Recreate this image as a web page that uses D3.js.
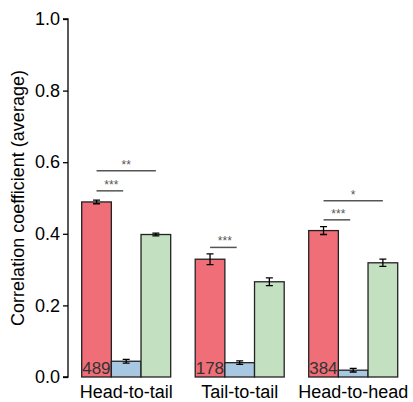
<!DOCTYPE html>
<html lang="en">
<head>
<meta charset="UTF-8">
<title>Correlation coefficient</title>
<style>
  body { margin: 0; background: #fff; }
  svg text { font-family: "Liberation Sans", Arial, sans-serif; }
</style>
</head>
<body>
<script src="https://cdn.jsdelivr.net/npm/d3@7"></script>
<script>
var groups = ['Head-to-tail', 'Tail-to-tail', 'Head-to-head'];
var series = ['red', 'blue', 'green'];
var counts = [489, 178, 384];
var means = [
  [0.489, 0.044, 0.398],
  [0.329, 0.040, 0.266],
  [0.409, 0.019, 0.319]
];
var errs = [
  [0.005, 0.005, 0.004],
  [0.015, 0.005, 0.011],
  [0.011, 0.005, 0.010]
];
var yTicks = [0, 0.2, 0.4, 0.6, 0.8, 1.0];
// significance brackets: group, from series, to series, level, stars
var sig = [
  [0, 0, 1, 0.52, '***'],
  [0, 0, 2, 0.576, '**'],
  [1, 0, 1, 0.362, '***'],
  [2, 0, 1, 0.439, '***'],
  [2, 0, 2, 0.492, '*']
];
var colors = { red: '#f06e77', blue: '#a8c7e0', green: '#c3e1c1' };

var W = 413, H = 402;
var svg = d3.select('body').append('svg')
    .attr('width', W)
    .attr('height', H);

var y = d3.scaleLinear().domain([0, 1]).range([377, 19]);
var x0 = d3.scaleBand().domain(groups).range([81.7, 397.7]).paddingInner(0.216).paddingOuter(0);
var x1 = d3.scaleBand().domain(series).range([0, x0.bandwidth()]);

// axis
var yAxis = d3.axisLeft(y).tickValues(yTicks).tickFormat(d3.format('.1f')).tickSize(5).tickPadding(3);
var ag = svg.append('g').attr('transform', 'translate(68,0)').call(yAxis);
ag.select('.domain').attr('d', 'M-5,' + y(1) + 'H0V' + y(0) + 'H-5').attr('stroke', '#000').attr('stroke-width', 1.3);
ag.selectAll('.tick line').attr('stroke', '#000').attr('stroke-width', 1.3);
ag.selectAll('.tick text').attr('font-size', 18).attr('fill', '#000')
  .style('font-family', '"Liberation Sans", Arial, sans-serif');

svg.append('text')
  .attr('transform', 'translate(24,' + y(0.5) + ') rotate(-90)')
  .attr('text-anchor', 'middle')
  .attr('font-size', 18)
  .text('Correlation coefficient (average)');

var gg = svg.selectAll('g.grp')
  .data(groups)
  .enter().append('g')
    .attr('class', 'grp')
    .attr('transform', function(d) { return 'translate(' + x0(d) + ',0)'; });

gg.selectAll('rect')
  .data(function(d, i) { return series.map(function(s, j) { return { s: s, v: means[i][j], e: errs[i][j] }; }); })
  .enter().append('rect')
    .attr('x', function(d) { return x1(d.s); })
    .attr('y', function(d) { return y(d.v); })
    .attr('width', x1.bandwidth())
    .attr('height', function(d) { return y(0) - y(d.v); })
    .attr('fill', function(d) { return colors[d.s]; })
    .attr('stroke', '#222')
    .attr('stroke-width', 1.3);

// error bars
gg.selectAll('path.err')
  .data(function(d, i) { return series.map(function(s, j) { return { s: s, v: means[i][j], e: errs[i][j] }; }); })
  .enter().append('path')
    .attr('class', 'err')
    .attr('fill', 'none')
    .attr('stroke', '#000')
    .attr('stroke-width', 1.3)
    .attr('d', function(d) {
      var cx = x1(d.s) + x1.bandwidth() / 2, t = y(d.v + d.e), b = y(d.v - d.e);
      return 'M' + (cx - 3.5) + ',' + t + 'H' + (cx + 3.5) + 'M' + cx + ',' + t + 'V' + b +
             'M' + (cx - 3.5) + ',' + b + 'H' + (cx + 3.5);
    });

// counts
gg.append('text')
  .attr('x', 0.5)
  .attr('y', y(0) - 3)
  .attr('font-size', 17)
  .attr('fill', '#333')
  .text(function(d, i) { return counts[i]; });

// group labels
gg.append('text')
  .attr('x', x0.bandwidth() / 2)
  .attr('y', 398)
  .attr('text-anchor', 'middle')
  .attr('font-size', 18)
  .attr('fill', '#000')
  .text(function(d) { return d; });

// significance
var sg = svg.selectAll('g.sig')
  .data(sig)
  .enter().append('g')
    .attr('class', 'sig');
sg.append('line')
  .attr('x1', function(d) { return x0(groups[d[0]]) + x1(series[d[1]]) + x1.bandwidth() / 2; })
  .attr('x2', function(d) {
    var c = x0(groups[d[0]]) + x1(series[d[2]]) + x1.bandwidth() / 2;
    return d[2] === 1 ? c - 3 : c;
  })
  .attr('y1', function(d) { return y(d[3]); })
  .attr('y2', function(d) { return y(d[3]); })
  .attr('stroke', '#555')
  .attr('stroke-width', 1.5);
sg.append('text')
  .attr('x', function(d) {
    var a = x0(groups[d[0]]) + x1(series[d[1]]) + x1.bandwidth() / 2;
    var b = x0(groups[d[0]]) + x1(series[d[2]]) + x1.bandwidth() / 2;
    return (a + b) / 2;
  })
  .attr('y', function(d) { return y(d[3]) - 2; })
  .attr('text-anchor', 'middle')
  .attr('font-size', 12)
  .attr('fill', '#555')
  .text(function(d) { return d[4]; });
</script>
</body>
</html>
